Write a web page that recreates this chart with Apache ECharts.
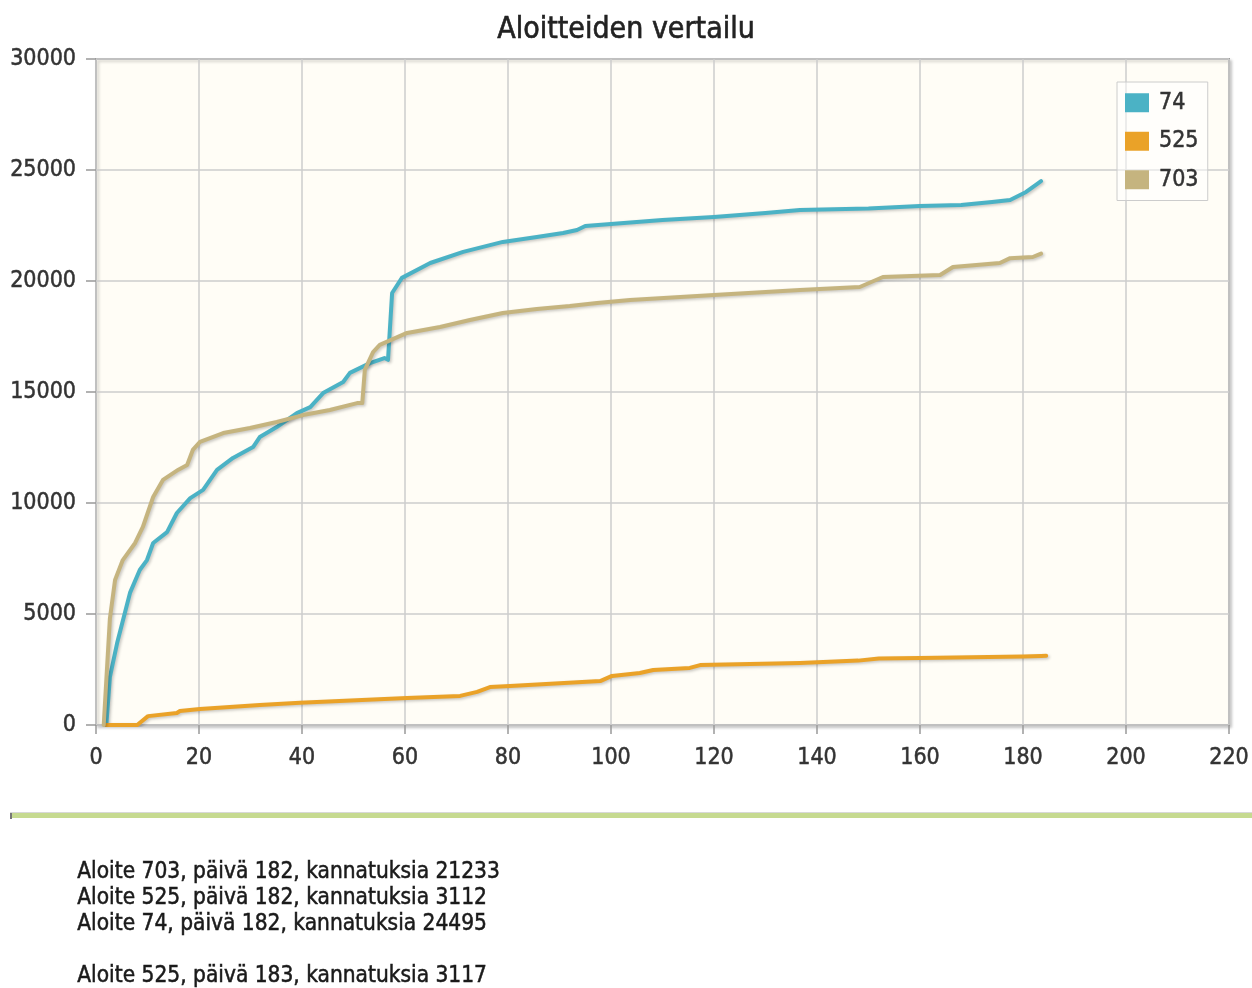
<!DOCTYPE html>
<html>
<head>
<meta charset="utf-8">
<script src="https://cdn.jsdelivr.net/npm/echarts@6/dist/echarts.min.js"></script>
<style>
html,body{margin:0;padding:0;background:#fff;}
#chart{width:1252px;height:988px;}
</style>
</head>
<body>
<div id="chart"></div>
<script>
const FONT = '"DejaVu Sans Condensed", "DejaVu Sans", sans-serif';
const titleText = 'Aloitteiden vertailu';
const seriesNames = ['74', '525', '703'];
const seriesColors = ['#4bb2c5', '#eaa228', '#c5b47f'];

const xTicks = { min: 0, max: 220, interval: 20 };
const yTicks = { min: 0, max: 30000, interval: 5000 };

const days74 = [2, 2.7, 4.1, 6.6, 8.5, 9.9, 11.1, 13.8, 15.7, 18.3, 20.8, 23.5, 26.6, 30.5, 31.8, 35.1, 39, 41.6, 44.1, 48, 49.3, 53.2, 56, 56.7, 57.5, 59.4, 64.9, 71.3, 79, 85.6, 90.7, 93.4, 95, 100, 110, 120, 130, 136.7, 150, 160, 168, 174, 177.5, 180.6, 182.3, 183.5];
const vals74 = [0, 2160, 3690, 5950, 6980, 7430, 8200, 8690, 9550, 10220, 10590, 11490, 12030, 12520, 12970, 13420, 14050, 14320, 14950, 15450, 15860, 16300, 16530, 16450, 19460, 20140, 20810, 21310, 21760, 21980, 22160, 22300, 22480, 22570, 22750, 22880, 23060, 23200, 23270, 23380, 23420, 23560, 23650, 24010, 24300, 24495];

const days525 = [2, 8, 10.1, 15.7, 16.3, 20.2, 31.8, 39.6, 60.4, 70.7, 74, 76.5, 80.4, 97.9, 100.2, 105.6, 108.2, 115.3, 117.3, 136.7, 148, 152, 160, 170, 180, 183.5, 184.5];
const vals525 = [0, 0, 400, 540, 630, 720, 900, 1000, 1220, 1310, 1490, 1710, 1760, 1980, 2210, 2340, 2480, 2570, 2700, 2790, 2900, 3000, 3020, 3050, 3090, 3112, 3117];

const days703 = [1.5, 2.7, 3.7, 5.2, 7.6, 9.1, 11.1, 13, 16, 17.7, 18.8, 20.2, 24.7, 29.9, 35.1, 40.2, 45.4, 50.7, 51.7, 52.2, 53.8, 55.1, 60.4, 66.8, 72.6, 79, 85.6, 92, 97.3, 103.7, 120, 136.7, 148.3, 152.8, 163.9, 166.4, 175.5, 177.5, 181.9, 183.5];
const vals703 = [0, 4800, 6530, 7430, 8200, 8920, 10270, 11040, 11500, 11710, 12390, 12750, 13150, 13380, 13650, 13960, 14190, 14500, 14500, 16000, 16800, 17120, 17660, 17930, 18240, 18560, 18740, 18870, 19010, 19140, 19370, 19600, 19730, 20180, 20270, 20630, 20810, 21030, 21080, 21233];

const infoLines = [
  'Aloite 703, päivä 182, kannatuksia 21233',
  'Aloite 525, päivä 182, kannatuksia 3112',
  'Aloite 74, päivä 182, kannatuksia 24495',
  '',
  'Aloite 525, päivä 183, kannatuksia 3117'
];

function pairs(xs, ys) { return xs.map((x, i) => [x, ys[i]]); }
const seriesData = [pairs(days74, vals74), pairs(days525, vals525), pairs(days703, vals703)];

const chart = echarts.init(document.getElementById('chart'), null, { renderer: 'canvas' });

const labelStyle = { fontFamily: FONT, fontSize: 23, color: '#333', textBorderColor: '#333', textBorderWidth: 0.5 };

const graphics = [
  { type: 'rect', shape: { x: 10, y: 812, width: 1242, height: 1 }, style: { fill: '#d8d8d8' } },
  { type: 'rect', shape: { x: 10, y: 813, width: 1242, height: 5 }, style: { fill: '#c6da90' } },
  { type: 'rect', shape: { x: 10, y: 813, width: 2, height: 6 }, style: { fill: '#777' } }
];
infoLines.forEach((t, i) => {
  if (!t) return;
  graphics.push({
    type: 'text', left: 77, top: 860 + i * 26,
    style: { text: t, fill: '#1a1a1a', font: '22.5px ' + FONT, stroke: '#1a1a1a', lineWidth: 0.5 }
  });
});

chart.setOption({
  backgroundColor: '#fff',
  animation: false,
  title: {
    text: titleText, left: 'center', top: 10,
    textStyle: { fontFamily: FONT, fontSize: 30, fontWeight: 'normal', color: '#222', textBorderColor: '#222', textBorderWidth: 0.6 }
  },
  legend: {
    data: seriesNames, orient: 'vertical', left: 1117, top: 82,
    backgroundColor: 'rgba(255,255,255,0.5)', borderColor: '#cccccc', borderWidth: 1,
    padding: [9, 9, 9, 8], icon: 'rect', itemWidth: 24, itemHeight: 19, itemGap: 15,
    textStyle: { fontFamily: FONT, fontSize: 23, color: '#333', textBorderColor: '#333', textBorderWidth: 0.5, padding: [0, 0, 0, 5] }
  },
  grid: {
    left: 96, top: 59, width: 1133, height: 666, show: true,
    backgroundColor: '#fffdf6', borderColor: '#9c9c9c', borderWidth: 2,
    shadowColor: 'rgba(0,0,0,0.18)', shadowBlur: 3, shadowOffsetX: 2, shadowOffsetY: 2
  },
  xAxis: {
    type: 'value', min: xTicks.min, max: xTicks.max, interval: xTicks.interval,
    axisLine: { show: false },
    axisTick: { show: true, length: 9, lineStyle: { color: '#999', width: 1.5 } },
    axisLabel: Object.assign({ margin: 22, formatter: v => String(v) }, labelStyle),
    splitLine: { show: true, lineStyle: { color: '#cccccc', width: 1.5 } }
  },
  yAxis: {
    type: 'value', min: yTicks.min, max: yTicks.max, interval: yTicks.interval,
    axisLine: { show: false },
    axisTick: { show: true, length: 10, lineStyle: { color: '#999', width: 1.5 } },
    axisLabel: Object.assign({ margin: 20, formatter: v => String(v) }, labelStyle),
    splitLine: { show: true, lineStyle: { color: '#cccccc', width: 1.5 } }
  },
  series: seriesNames.map((name, i) => ({
    name: name, type: 'line', data: seriesData[i], showSymbol: false, symbol: 'none',
    color: seriesColors[i],
    lineStyle: {
      width: 4, color: seriesColors[i], join: 'round', cap: 'round',
      shadowColor: 'rgba(0,0,0,0.22)', shadowBlur: 3, shadowOffsetX: 1.5, shadowOffsetY: 1.5
    }
  })),
  graphic: graphics
});
</script>
</body>
</html>
